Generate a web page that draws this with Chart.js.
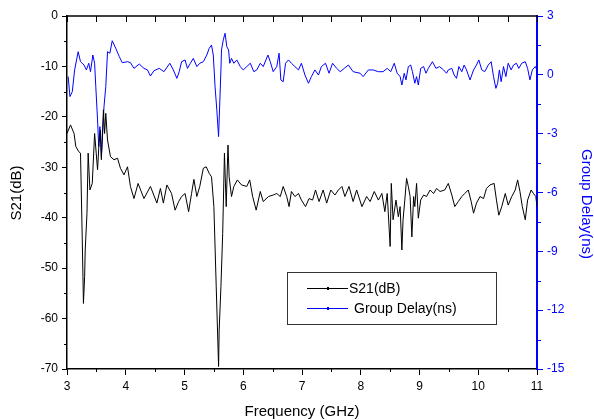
<!DOCTYPE html>
<html>
<head>
<meta charset="utf-8">
<script src="https://cdn.jsdelivr.net/npm/chart.js@4.4.0/dist/chart.umd.min.js"></script>
<style>
  html, body { margin: 0; padding: 0; background: #fff; }
  #wrap { width: 594px; height: 420px; }
</style>
</head>
<body>
<div id="wrap"><canvas id="graph" width="594" height="420"></canvas></div>
<script>
// S21 (dB)
const freqS21 = [3.00,3.06,3.12,3.15,3.20,3.23,3.26,3.28,3.30,3.31,3.34,3.36,3.39,3.43,3.47,3.52,3.545,3.57,3.585,3.62,
  3.64,3.66,3.69,3.74,3.80,3.86,3.91,3.97,4.03,4.08,4.14,4.21,4.31,4.42,4.53,4.59,4.64,4.70,4.78,4.84,
  4.90,4.95,5.01,5.07,5.12,5.16,5.21,5.26,5.32,5.37,5.42,5.46,5.50,5.54,5.58,5.59,5.62,5.65,5.68,5.71,
  5.74,5.76,5.80,5.84,5.90,5.97,6.06,6.11,6.16,6.22,6.29,6.34,6.43,6.51,6.57,6.63,6.68,6.74,6.78,6.82,
  6.88,6.94,6.99,7.06,7.12,7.18,7.23,7.29,7.36,7.42,7.49,7.56,7.62,7.68,7.73,7.80,7.87,7.93,8.02,8.10,
  8.16,8.23,8.30,8.36,8.41,8.45,8.50,8.52,8.55,8.60,8.64,8.67,8.70,8.72,8.75,8.78,8.81,8.84,8.87,8.90,
  8.92,8.95,8.98,9.02,9.07,9.12,9.18,9.24,9.29,9.35,9.43,9.49,9.55,9.60,9.66,9.72,9.77,9.83,9.88,9.92,
  9.97,10.03,10.09,10.14,10.20,10.27,10.31,10.35,10.40,10.46,10.51,10.57,10.63,10.67,10.71,10.75,10.80,10.84,10.90,10.94,
  10.98,11.00];
const s21 = [-23.3,-21.6,-23.3,-25.9,-26.9,-27.2,-44.4,-57.0,-51.7,-46.4,-39.1,-27.2,-34.5,-33.2,-23.3,-30.5,-25.2,-22.6,-28.5,-18.6,
  -23.3,-19.3,-24.6,-27.9,-28.5,-28.2,-30.2,-31.5,-29.9,-33.8,-36.2,-33.2,-36.2,-33.8,-37.1,-34.2,-37.1,-33.5,-35.2,-38.5,
  -36.8,-35.8,-35.2,-38.8,-35.2,-32.4,-35.8,-33.8,-30.2,-29.9,-31.2,-31.9,-37.8,-53.7,-69.5,-62.3,-53.7,-43.1,-27.2,-37.8,
  -25.6,-31.9,-35.8,-33.8,-32.5,-33.5,-33.8,-32.5,-35.8,-38.5,-34.8,-36.8,-35.8,-35.5,-35.2,-35.8,-33.8,-35.8,-37.8,-34.8,
  -35.8,-35.2,-36.5,-37.8,-36.2,-36.5,-34.5,-36.8,-34.5,-37.1,-34.5,-35.5,-34.5,-33.8,-35.8,-33.8,-36.8,-34.5,-37.8,-35.8,
  -36.8,-34.8,-36.5,-35.2,-38.8,-35.2,-45.7,-33.2,-40.4,-36.5,-39.8,-37.8,-46.4,-40.4,-36.5,-32.2,-33.8,-35.8,-43.8,-35.8,
  -37.8,-33.2,-40.1,-36.5,-35.5,-35.8,-34.5,-35.2,-34.2,-34.8,-34.5,-33.2,-35.5,-37.8,-36.8,-35.8,-35.2,-34.5,-36.8,-39.1,
  -37.1,-35.8,-36.2,-34.2,-33.5,-33.2,-36.5,-39.5,-37.8,-35.2,-37.5,-35.8,-34.5,-32.5,-34.8,-37.8,-40.4,-36.5,-34.5,-35.2,
  -35.8,-37.8];

// Group delay (ns)
const freqGD = [3.02,3.05,3.09,3.13,3.19,3.23,3.29,3.33,3.37,3.40,3.44,3.47,3.49,3.52,3.54,3.56,3.585,3.61,3.63,3.66,
  3.69,3.73,3.77,3.83,3.89,3.94,4.03,4.08,4.14,4.23,4.31,4.37,4.42,4.48,4.57,4.65,4.75,4.81,4.87,4.91,
  4.95,5.01,5.05,5.10,5.15,5.21,5.26,5.32,5.38,5.42,5.46,5.49,5.52,5.55,5.58,5.59,5.62,5.63,5.66,5.69,
  5.72,5.75,5.77,5.80,5.84,5.89,5.95,6.00,6.06,6.12,6.18,6.23,6.29,6.34,6.42,6.46,6.51,6.57,6.61,6.64,
  6.68,6.72,6.77,6.82,6.88,6.94,6.99,7.05,7.11,7.16,7.22,7.28,7.33,7.40,7.46,7.52,7.59,7.65,7.72,7.79,
  7.87,7.99,8.04,8.13,8.21,8.30,8.38,8.45,8.51,8.57,8.62,8.67,8.70,8.74,8.77,8.81,8.85,8.88,8.92,8.95,
  8.98,9.02,9.07,9.11,9.15,9.22,9.28,9.34,9.41,9.46,9.49,9.55,9.59,9.63,9.67,9.72,9.76,9.80,9.86,9.92,
  9.97,10.01,10.06,10.11,10.17,10.22,10.26,10.30,10.33,10.36,10.39,10.43,10.47,10.51,10.56,10.60,10.65,10.69,10.74,10.80,
  10.84,10.88,10.92,10.97,11.00];
const groupDelay = [-0.09,-1.11,-0.86,0.25,1.18,0.67,0.50,0.25,0.59,0.16,1.01,0.59,-0.60,-2.30,-3.66,-2.64,-4.17,-2.81,-1.62,-0.60,
  1.18,1.10,1.74,1.35,0.93,0.62,0.67,0.62,0.33,0.55,0.33,0.25,-0.06,0.21,0.33,0.16,0.59,0.25,-0.18,0.16,
  0.67,0.76,0.33,0.59,0.84,0.42,0.59,0.67,1.01,1.35,1.52,1.01,-0.60,-1.79,-3.15,-2.30,0.25,1.27,1.78,2.12,
  1.44,1.27,0.59,0.84,0.59,0.76,0.42,0.25,0.42,0.59,0.16,0.25,0.59,0.42,1.01,0.67,0.16,0.42,1.10,-0.26,
  -0.35,0.59,0.76,0.59,0.42,0.25,0.59,-0.01,-0.43,-0.09,0.25,-0.01,0.42,0.59,0.08,0.59,0.33,0.16,0.33,0.50,
  0.16,0.08,-0.09,0.25,0.25,0.16,0.16,0.33,0.16,0.59,0.08,-0.09,-0.52,0.08,-0.26,0.42,0.50,0.16,-0.43,-0.09,
  -0.52,0.33,0.42,0.08,0.33,0.67,0.33,0.42,0.25,0.08,0.25,0.33,-0.01,-0.18,0.42,0.16,0.50,0.25,-0.26,0.25,
  0.50,0.76,0.25,0.16,0.50,0.67,-0.09,-0.69,-0.43,0.25,-0.35,0.42,-0.09,0.59,0.25,0.50,0.59,0.33,0.59,0.67,
  0.33,-0.26,0.25,0.42,0.25];

const xRange = [3, 11];
const s21Range = [-70, 0];
const gdRange = [-15, 3];

const FONT = '"Liberation Sans", Arial, sans-serif';
const BLUE = '#0000ff';

// minor ticks, top frame, axis titles and the boxed legend
const decorations = {
  id: 'decorations',
  afterDraw(chart) {
    const ctx = chart.ctx, a = chart.chartArea;
    const x = chart.scales.x, y = chart.scales.y, y2 = chart.scales.y2;
    ctx.save();
    ctx.lineCap = 'butt';

    ctx.strokeStyle = '#000';
    ctx.lineWidth = 1.5;
    ctx.beginPath();
    ctx.moveTo(a.left, a.top); ctx.lineTo(a.right, a.top);
    ctx.stroke();

    ctx.lineWidth = 1;
    ctx.beginPath();
    for (let f = xRange[0]; f <= xRange[1]; f += 0.5) {
      const px = Math.round(x.getPixelForValue(f)) + 0.5;
      ctx.moveTo(px, a.top); ctx.lineTo(px, a.top + 6);
      if (f % 1 !== 0) { ctx.moveTo(px, a.bottom); ctx.lineTo(px, a.bottom + 3); }
    }
    for (let v = -5; v > s21Range[0]; v -= 10) {
      const py = Math.round(y.getPixelForValue(v)) + 0.5;
      ctx.moveTo(a.left, py); ctx.lineTo(a.left - 3, py);
    }
    ctx.stroke();

    ctx.strokeStyle = BLUE;
    ctx.beginPath();
    for (let v = 1.5; v > gdRange[0]; v -= 3) {
      const py = Math.round(y2.getPixelForValue(v)) + 0.5;
      ctx.moveTo(a.right, py); ctx.lineTo(a.right + 4, py);
    }
    ctx.stroke();

    // axis titles
    ctx.font = '15px ' + FONT;
    ctx.textAlign = 'center';
    ctx.textBaseline = 'middle';
    ctx.fillStyle = '#000';
    ctx.fillText('Frequency (GHz)', (a.left + a.right) / 2, 412);
    ctx.save();
    ctx.translate(17, 193);
    ctx.rotate(-Math.PI / 2);
    ctx.fillText('S21(dB)', 0, 0);
    ctx.restore();
    ctx.save();
    ctx.fillStyle = BLUE;
    ctx.translate(586, 204);
    ctx.rotate(Math.PI / 2);
    ctx.fillText('Group Delay(ns)', 0, 0);
    ctx.restore();

    // legend box
    ctx.strokeStyle = '#333';
    ctx.lineWidth = 1;
    ctx.strokeRect(287.5, 272.5, 209, 52);
    ctx.font = '14px ' + FONT;
    ctx.textAlign = 'left';
    const rowY = [288, 308];
    const textX = [349, 354];
    chart.data.datasets.forEach((ds, i) => {
      ctx.strokeStyle = ds.borderColor;
      ctx.fillStyle = ds.borderColor;
      ctx.beginPath();
      ctx.moveTo(307, rowY[i] + 0.5); ctx.lineTo(348, rowY[i] + 0.5);
      ctx.stroke();
      ctx.fillRect(327, rowY[i] - 1, 2, 3);
      ctx.fillStyle = '#000';
      ctx.fillText(ds.label, textX[i], rowY[i] + 1);
    });
    ctx.restore();
  }
};

new Chart(document.getElementById('graph'), {
  type: 'line',
  plugins: [decorations],
  data: {
    datasets: [
      {
        label: 'S21(dB)',
        data: freqS21.map((f, i) => ({ x: f, y: s21[i] })),
        borderColor: '#000000',
        borderWidth: 1,
        pointRadius: 0,
        tension: 0,
        yAxisID: 'y'
      },
      {
        label: 'Group Delay(ns)',
        data: freqGD.map((f, i) => ({ x: f, y: groupDelay[i] })),
        borderColor: BLUE,
        borderWidth: 1,
        pointRadius: 0,
        tension: 0,
        yAxisID: 'y2'
      }
    ]
  },
  options: {
    responsive: false,
    devicePixelRatio: 1,
    animation: false,
    layout: { padding: { top: 16, left: 0, right: 0, bottom: 0 } },
    plugins: { legend: { display: false }, tooltip: { enabled: false } },
    scales: {
      x: {
        type: 'linear',
        position: 'bottom',
        min: xRange[0],
        max: xRange[1],
        afterFit: s => { s.height = 51; },
        ticks: { stepSize: 1, color: '#000', padding: 4, font: { family: FONT, size: 12 } },
        grid: { drawOnChartArea: false, tickLength: 6, color: '#000', lineWidth: 1 },
        border: { color: '#000', width: 1.5 }
      },
      y: {
        type: 'linear',
        position: 'left',
        min: s21Range[0],
        max: s21Range[1],
        afterFit: s => { s.width = 67; },
        ticks: { stepSize: 10, color: '#000', padding: 4, font: { family: FONT, size: 12 } },
        grid: { drawOnChartArea: false, tickLength: 5, color: '#000', lineWidth: 1 },
        border: { color: '#000', width: 1.5 }
      },
      y2: {
        type: 'linear',
        position: 'right',
        min: gdRange[0],
        max: gdRange[1],
        afterFit: s => { s.width = 57; },
        ticks: { stepSize: 3, color: BLUE, padding: 4, font: { family: FONT, size: 12 } },
        grid: { drawOnChartArea: false, tickLength: 6, color: BLUE, lineWidth: 1 },
        border: { color: BLUE, width: 2 }
      }
    }
  }
});
</script>
</body>
</html>
